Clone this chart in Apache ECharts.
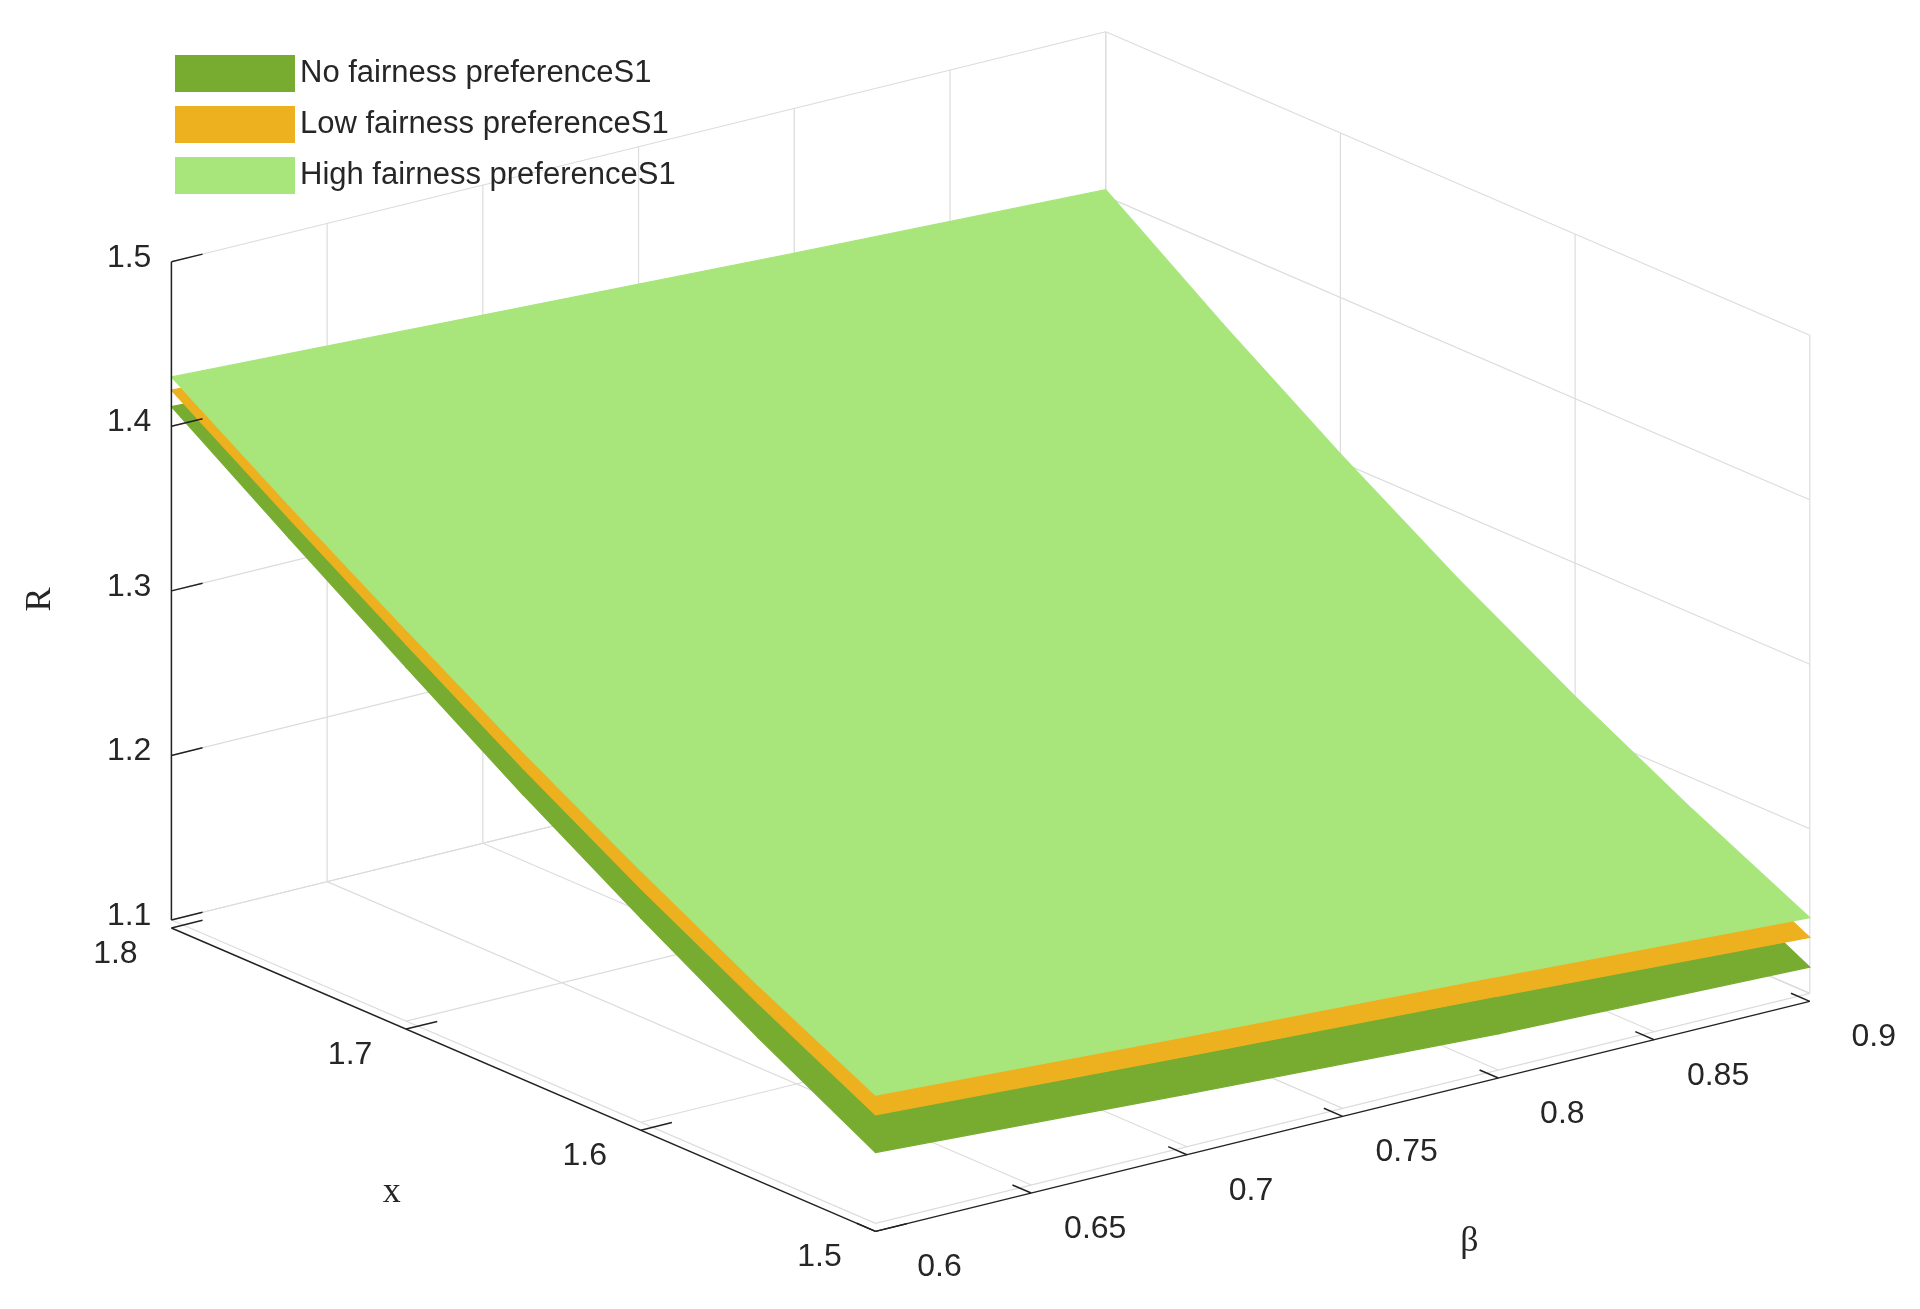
<!DOCTYPE html>
<html><head><meta charset="utf-8">
<script src="https://cdn.jsdelivr.net/npm/echarts@6/dist/echarts.min.js"></script>
<style>html,body{margin:0;padding:0;background:#fff}#c{width:1920px;height:1309px}</style>
</head><body><div id="c"></div>
<script>
// data
const xVals = [1.5, 1.55, 1.6, 1.65, 1.7, 1.75, 1.8];
const betaVals = [0.6, 0.7, 0.8, 0.9];
const xTicks = [1.5, 1.6, 1.7, 1.8];
const betaTicks = [0.6, 0.65, 0.7, 0.75, 0.8, 0.85, 0.9];
const rTicks = [1.1, 1.2, 1.3, 1.4, 1.5];
const highR = [
  [1.178,1.214,1.253,1.294,1.338,1.383,1.430],
  [1.167,1.203,1.241,1.283,1.327,1.373,1.421],
  [1.157,1.192,1.230,1.271,1.316,1.363,1.412],
  [1.146,1.181,1.219,1.260,1.305,1.353,1.404]
];
const lowR = [
  [1.166,1.203,1.242,1.284,1.329,1.375,1.422],
  [1.155,1.192,1.230,1.273,1.318,1.365,1.413],
  [1.145,1.181,1.219,1.261,1.307,1.355,1.404],
  [1.134,1.170,1.208,1.250,1.296,1.345,1.396]
];
const noR = [
  [1.143,1.182,1.224,1.268,1.315,1.363,1.412],
  [1.132,1.171,1.212,1.257,1.304,1.353,1.403],
  [1.122,1.160,1.201,1.245,1.293,1.343,1.394],
  [1.116,1.153,1.193,1.236,1.284,1.335,1.388]
];
const names = ['No fairness preferenceS1','Low fairness preferenceS1','High fairness preferenceS1'];
const colors = ['#77AC30','#EDB120','#A8E67C'];

// projection (display units of a 1568x1070 frame)
function proj(x, b, r) {
  return [715 + (x-1.5)*(-1916.7) + (b-0.6)*2543.3,
          1000 + (x-1.5)*(-826.7) + (b-0.6)*(-626.7) + (r-1.1)*(-1345)];
}
const chart = echarts.init(document.getElementById('c'));
function P(api, x, b, r){ return api.coord(proj(x,b,r)); }

function surfSeries(name, grid, color, z) {
  const cells = [];
  for (let j=0;j<betaVals.length-1;j++) for (let i=0;i<xVals.length-1;i++) cells.push([i,j]);
  return {
    type:'custom', name, coordinateSystem:'cartesian2d', clip:false, z,
    itemStyle:{color}, data: cells, silent:true,
    renderItem:(params, api)=>{
      const i=api.value(0), j=api.value(1);
      const pts=[[i,j],[i+1,j],[i+1,j+1],[i,j+1]].map(([a,b])=>P(api,xVals[a],betaVals[b],grid[b][a]));
      return {type:'polygon', shape:{points:pts}, style:{fill:color, stroke:color, lineWidth:1.2}};
    }
  };
}

const decor = {
  type:'custom', coordinateSystem:'cartesian2d', clip:false, z:1, silent:true, data:[[0]],
  renderItem:(params, api)=>{
    const ch=[];
    const line=(a,b,c,w)=>ch.push({type:'line',shape:{x1:a[0],y1:a[1],x2:b[0],y2:b[1]},style:{stroke:c||'#dcdcdc',lineWidth:w||1.2}});
    rTicks.forEach(r=>line(P(api,1.8,0.6,r),P(api,1.8,0.9,r)));
    betaTicks.forEach(b=>line(P(api,1.8,b,1.1),P(api,1.8,b,1.5)));
    rTicks.forEach(r=>line(P(api,1.5,0.9,r),P(api,1.8,0.9,r)));
    xTicks.forEach(x=>line(P(api,x,0.9,1.1),P(api,x,0.9,1.5)));
    xTicks.forEach(x=>line(P(api,x,0.6,1.1),P(api,x,0.9,1.1)));
    betaTicks.forEach(b=>line(P(api,1.5,b,1.1),P(api,1.8,b,1.1)));
    return {type:'group',children:ch};
  }
};
const axes = {
  type:'custom', coordinateSystem:'cartesian2d', clip:false, z:10, silent:true, data:[[0]],
  renderItem:(params, api)=>{
    const ch=[]; const F='Liberation Sans, Arial, sans-serif';
    const line=(a,b)=>ch.push({type:'line',shape:{x1:a[0],y1:a[1],x2:b[0],y2:b[1]},style:{stroke:'#222',lineWidth:1.5}});
    const txt=(p,s,dx,dy,opt)=>ch.push({type:'text',x:p[0]+dx,y:p[1]+dy,rotation:(opt&&opt.rot)||0,
      style:{text:s,font:(opt&&opt.font)||('32px '+F),fill:'#262626',align:(opt&&opt.align)||'center',verticalAlign:'middle'}});
    line(P(api,1.8,0.6,1.1),P(api,1.8,0.6,1.5));
    rTicks.forEach(r=>{const p=P(api,1.8,0.6,r); line(p,P(api,1.8,0.61,r)); txt(p,r.toFixed(1),-20,-4,{align:'right'});});
    const off=[0,8];
    const o=(p)=>[p[0]+off[0],p[1]+off[1]];
    line(o(P(api,1.5,0.6,1.1)),o(P(api,1.8,0.6,1.1)));
    xTicks.forEach(x=>{const p=o(P(api,x,0.6,1.1)); line(p,o(P(api,x,0.61,1.1))); txt(p,x.toFixed(1),-56,26);});
    line(o(P(api,1.5,0.6,1.1)),o(P(api,1.5,0.9,1.1)));
    betaTicks.forEach(b=>{const p=o(P(api,1.5,b,1.1)); line(p,o(P(api,1.508,b,1.1))); txt(p,String(b),64,36);});
    const S='36px Liberation Serif, Times New Roman, serif';
    txt(api.coord([320,975]),'x',0,0,{font:S});
    txt(api.coord([1200,1015]),'β',0,0,{font:S});
    txt(api.coord([33,490]),'R',0,0,{font:S,rot:Math.PI/2});
    return {type:'group',children:ch};
  }
};

chart.setOption({
  animation:false,
  grid:{left:0,right:0,top:0,bottom:0},
  xAxis:{type:'value',min:0,max:1568,show:false},
  yAxis:{type:'value',min:0,max:1070,inverse:true,show:false},
  legend:{left:170,top:50,orient:'vertical',itemWidth:120,itemHeight:37,itemGap:14,
    icon:'rect',data:names,textStyle:{fontSize:31,color:'#262626',fontFamily:'Liberation Sans, Arial, sans-serif'},
    selectedMode:false},
  series:[decor,
    surfSeries(names[0],noR,colors[0],2),
    surfSeries(names[1],lowR,colors[1],3),
    surfSeries(names[2],highR,colors[2],4),
    axes]
});
</script></body></html>
